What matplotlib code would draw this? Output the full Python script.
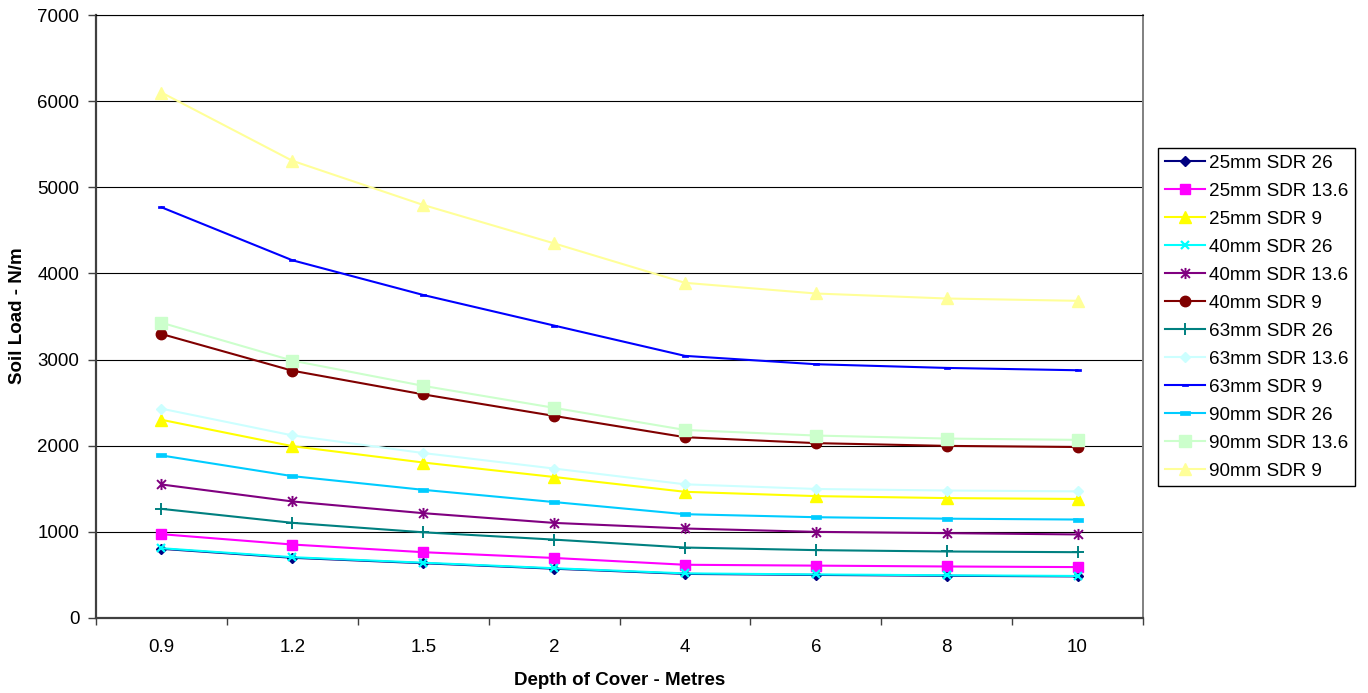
import matplotlib
matplotlib.use("Agg")
import matplotlib.pyplot as plt
from matplotlib.path import Path
import numpy as np

plt.rcParams['font.family'] = ['Liberation Sans', 'DejaVu Sans']

# Depth of cover categories (metres)
depths = ['0.9', '1.2', '1.5', '2', '4', '6', '8', '10']

# Soil load (N/m) for each pipe size / SDR
load_25_sdr26 = [803, 699, 636, 572, 512, 500, 490, 483]
load_25_sdr136 = [973, 853, 764, 697, 618, 608, 598, 591]
load_25_sdr9 = [2301, 1995, 1805, 1637, 1465, 1415, 1392, 1382]
load_40_sdr26 = [810, 706, 642, 578, 518, 506, 496, 488]
load_40_sdr136 = [1550, 1353, 1217, 1104, 1039, 1000, 985, 970]
load_40_sdr9 = [3297, 2871, 2596, 2346, 2099, 2030, 1998, 1985]
load_63_sdr26 = [1267, 1105, 995, 910, 818, 788, 772, 764]
load_63_sdr136 = [2430, 2120, 1915, 1735, 1552, 1498, 1480, 1470]
load_63_sdr9 = [4768, 4153, 3750, 3395, 3043, 2946, 2903, 2876]
load_90_sdr26 = [1887, 1647, 1488, 1346, 1205, 1170, 1153, 1143]
load_90_sdr136 = [3428, 2988, 2695, 2440, 2183, 2118, 2083, 2068]
load_90_sdr9 = [6100, 5308, 4795, 4349, 3891, 3767, 3709, 3682]

series_labels = ['25mm SDR 26', '25mm SDR 13.6', '25mm SDR 9',
                 '40mm SDR 26', '40mm SDR 13.6', '40mm SDR 9',
                 '63mm SDR 26', '63mm SDR 13.6', '63mm SDR 9',
                 '90mm SDR 26', '90mm SDR 13.6', '90mm SDR 9']
series_values = [load_25_sdr26, load_25_sdr136, load_25_sdr9,
                 load_40_sdr26, load_40_sdr136, load_40_sdr9,
                 load_63_sdr26, load_63_sdr136, load_63_sdr9,
                 load_90_sdr26, load_90_sdr136, load_90_sdr9]

# Custom marker shapes
star_path = Path([(0, -1), (0, 1), (-0.8, -0.8), (0.8, 0.8), (-0.8, 0.8), (0.8, -0.8)],
                 [Path.MOVETO, Path.LINETO, Path.MOVETO, Path.LINETO, Path.MOVETO, Path.LINETO])
bar_path = Path([(-1, -0.45), (1, -0.45), (1, 0.45), (-1, 0.45), (-1, -0.45)],
                [Path.MOVETO, Path.LINETO, Path.LINETO, Path.LINETO, Path.CLOSEPOLY])

styles = [
    dict(color='#000080', marker='D', ms=5.0, mfc='#000080', mec='#000080'),
    dict(color='#FF00FF', marker='s', ms=7.2, mfc='#FF00FF', mec='#FF00FF'),
    dict(color='#FFFF00', marker='^', ms=8.0, mfc='#FFFF00', mec='#FFFF00'),
    dict(color='#00FFFF', marker='x', ms=6.0, mfc='none', mec='#00FFFF', mew=1.6),
    dict(color='#800080', marker=star_path, ms=8.0, mfc='none', mec='#800080', mew=1.4),
    dict(color='#800000', marker='o', ms=7.5, mfc='#800000', mec='#800000'),
    dict(color='#008080', marker='+', ms=8.5, mfc='none', mec='#008080', mew=1.4),
    dict(color='#CCFFFF', marker='D', ms=5.5, mfc='#CCFFFF', mec='#CCFFFF'),
    dict(color='#0000FF', marker=bar_path, ms=4.2, mfc='#0000FF', mec='#0000FF', mew=0.5),
    dict(color='#00CCFF', marker=bar_path, ms=7.0, mfc='#00CCFF', mec='#00CCFF', mew=0.5),
    dict(color='#CCFFCC', marker='s', ms=8.0, mfc='#CCFFCC', mec='#CCFFCC'),
    dict(color='#FFFF99', marker='^', ms=8.5, mfc='#FFFF99', mec='#FFFF99'),
]

fig = plt.figure(figsize=(13.68, 6.93), dpi=100)
ax = fig.add_axes([96 / 1368, 1 - 618 / 693, (1143 - 96) / 1368, (618 - 15) / 693])

x = np.arange(len(depths))
handles = []
for i, (lab, vals, st) in enumerate(zip(series_labels, series_values, styles)):
    st = dict(st)
    h, = ax.plot(x, vals, label=lab, lw=1.5, color=st.pop('color'),
                 marker=st.pop('marker'), markersize=st.pop('ms'),
                 markerfacecolor=st.pop('mfc'), markeredgecolor=st.pop('mec'),
                 markeredgewidth=st.pop('mew', 1.0), zorder=3 + i, clip_on=False)
    handles.append(h)

ax.set_xlim(-0.5, len(depths) - 0.5)
ax.set_ylim(0, 7000)
ax.set_yticks(np.arange(0, 7001, 1000))
ax.yaxis.grid(True, color='#000000', lw=0.8)
ax.set_axisbelow(True)

# category boundaries carry the tick marks, labels sit at the centres
ax.set_xticks(np.arange(-0.5, len(depths), 1.0))
ax.set_xticklabels([])
ax.set_xticks(x, minor=True)
ax.set_xticklabels(depths, minor=True)
ax.tick_params(axis='x', which='major', direction='out', length=5, width=1, color='#404040')
ax.tick_params(axis='x', which='minor', length=0, pad=15, labelsize=13.5)
ax.tick_params(axis='y', direction='out', length=6, width=1, color='#404040', pad=6,
               labelsize=13.5)

for side in ('left', 'bottom'):
    ax.spines[side].set_color('#404040')
    ax.spines[side].set_linewidth(1.6)
ax.spines['right'].set_color('#808080')
ax.spines['right'].set_linewidth(1.4)
ax.spines['top'].set_color('#000000')
ax.spines['top'].set_linewidth(0.8)

fig.text(620 / 1368, 1 - 685 / 693, 'Depth of Cover - Metres', ha='center', va='baseline',
         fontsize=13.5, fontweight='bold')
fig.text(18 / 1368, 1 - 316 / 693, 'Soil Load - N/m', ha='center', va='center',
         rotation=90, fontsize=13.5, fontweight='bold')

leg = fig.legend(handles=handles, loc='upper left',
                 bbox_to_anchor=(1158 / 1368, 1 - 148 / 693), bbox_transform=fig.transFigure,
                 borderaxespad=0, borderpad=0.35, handlelength=2.15, handletextpad=0.2,
                 labelspacing=0.57, numpoints=1, fontsize=13.6, fancybox=False,
                 framealpha=1, edgecolor='#000000')
leg.get_frame().set_linewidth(1.0)

fig.savefig('out.png', dpi=100)
